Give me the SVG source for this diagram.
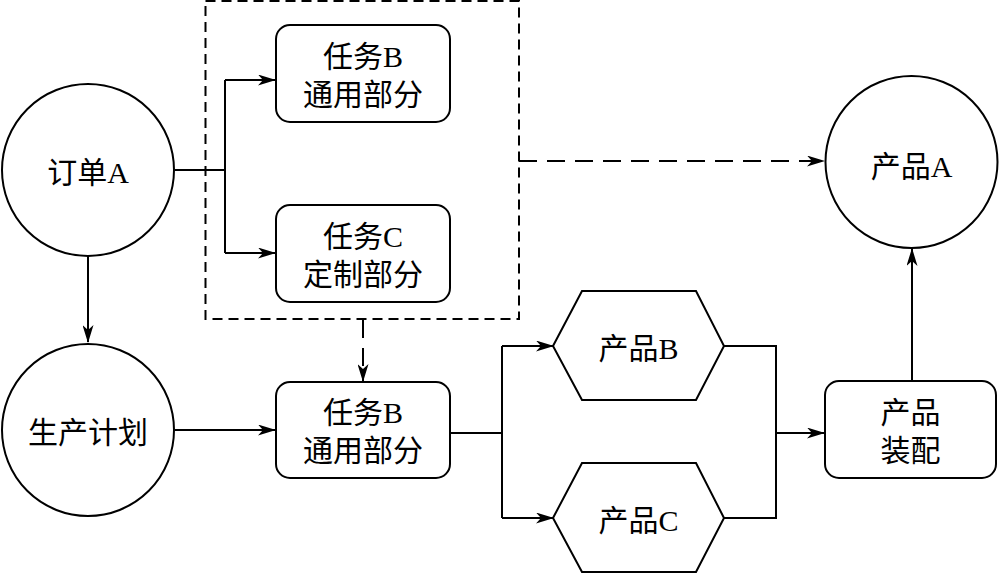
<svg xmlns="http://www.w3.org/2000/svg" width="999" height="574" viewBox="0 0 999 574">
<style>
.s{fill:none;stroke:#000;stroke-width:2}
.n{fill:#fff;stroke:#000;stroke-width:2}
.d{fill:none;stroke:#000;stroke-width:2;stroke-dasharray:10 6}
.da{fill:none;stroke:#000;stroke-width:2;stroke-dasharray:18 10}
.t{font-family:"Liberation Serif","Noto Sans CJK SC",serif;font-size:30px;text-anchor:middle;fill:#000}
</style>
<defs>
<marker id="ar" markerWidth="18" markerHeight="11" refX="17" refY="5.5" orient="auto" markerUnits="userSpaceOnUse">
<path d="M0,0 L18,5.5 L0,11 L5,5.5 z" fill="#000"/>
</marker>
</defs>
<rect id="group" class="d" x="205.5" y="1" width="313.5" height="318"/>
<g id="connectors">
<path class="s" d="M175,170 H225"/>
<path class="s" d="M225,80 V253"/>
<path class="s" d="M225,80 H275" marker-end="url(#ar)"/>
<path class="s" d="M225,253 H275" marker-end="url(#ar)"/>
<path class="s" d="M88,256 V342" marker-end="url(#ar)"/>
<path class="s" d="M175,430 H275" marker-end="url(#ar)"/>
<path class="da" d="M363,320 V381" marker-end="url(#ar)"/>
<path class="da" d="M519,161 H824" marker-end="url(#ar)"/>
<path class="s" d="M450,433 H502"/>
<path class="s" d="M502,346 V518"/>
<path class="s" d="M502,346 H553" marker-end="url(#ar)"/>
<path class="s" d="M502,518 H553" marker-end="url(#ar)"/>
<path class="s" d="M724,346 H776 V518 H724"/>
<path class="s" d="M776,433 H824" marker-end="url(#ar)"/>
<path class="s" d="M912,381 V249" marker-end="url(#ar)"/>
</g>
<g id="orderA">
<circle class="n" cx="88" cy="170" r="86"/>
<text class="t" x="88" y="183">订单A</text>
</g>
<g id="plan">
<circle class="n" cx="88" cy="430" r="86"/>
<text class="t" x="88" y="443">生产计划</text>
</g>
<g id="productA">
<circle class="n" cx="911.5" cy="162" r="86"/>
<text class="t" x="911.5" y="177">产品A</text>
</g>
<g id="taskB1">
<rect class="n" x="276" y="25" width="174" height="97" rx="14"/>
<text class="t" x="363" y="67">任务B</text>
<text class="t" x="363" y="105">通用部分</text>
</g>
<g id="taskC">
<rect class="n" x="276" y="205" width="174" height="97" rx="14"/>
<text class="t" x="363" y="247">任务C</text>
<text class="t" x="363" y="285">定制部分</text>
</g>
<g id="taskB2">
<rect class="n" x="276" y="382" width="174" height="96" rx="14"/>
<text class="t" x="363" y="423">任务B</text>
<text class="t" x="363" y="461">通用部分</text>
</g>
<g id="productB">
<polygon class="n" points="553,346 582,291 696,291 724,346 696,400 582,400"/>
<text class="t" x="638.5" y="359">产品B</text>
</g>
<g id="productC">
<polygon class="n" points="553,518 582,463 696,463 724,518 696,572 582,572"/>
<text class="t" x="638.5" y="531">产品C</text>
</g>
<g id="assembly">
<rect class="n" x="825" y="381" width="171" height="97" rx="14"/>
<text class="t" x="910.5" y="423">产品</text>
<text class="t" x="910.5" y="461">装配</text>
</g>
</svg>
